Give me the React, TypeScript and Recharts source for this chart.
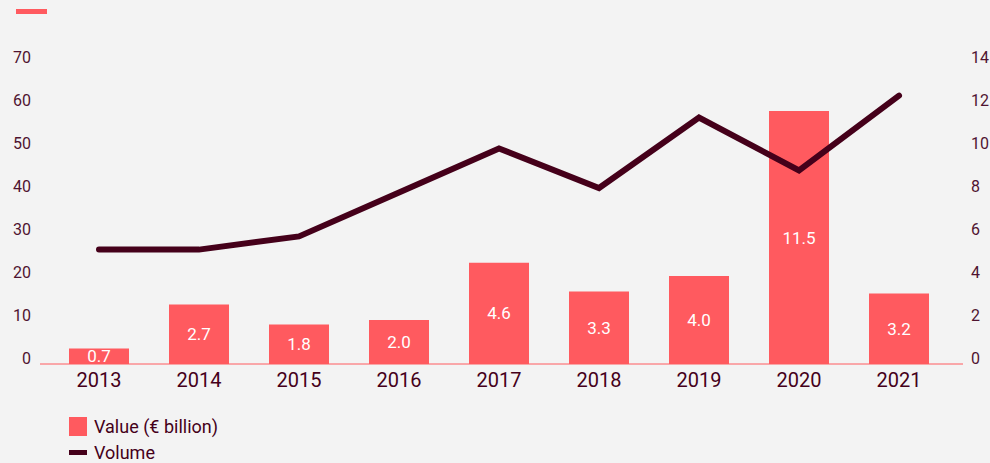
import {
  Bar,
  ComposedChart,
  LabelList,
  Line,
  XAxis,
  YAxis,
} from "recharts";

const years = ["2013", "2014", "2015", "2016", "2017", "2018", "2019", "2020", "2021"];
const valueBillion = [0.7, 2.7, 1.8, 2.0, 4.6, 3.3, 4.0, 11.5, 3.2];
const volume = [26, 26, 29, 39, 49, 40, 56, 44, 61];
const volumeTicks = [0, 10, 20, 30, 40, 50, 60, 70];
const valueTicks = [0, 2, 4, 6, 8, 10, 12, 14];

const data = years.map((year, i) => ({
  year,
  value: valueBillion[i],
  volume: volume[i],
}));

const BG = "#f3f3f3";
const CORAL = "#ff5a5f";
const MAROON = "#45001a";
const TEXT = "#4f1330";
const FONT = '"Roboto", sans-serif';

// tick labels sit a touch above their grid position near the baseline
function SideTick(props: any) {
  const { x, y, payload, textAnchor, index } = props;
  const shift = -6 + index;
  return (
    <text
      x={x}
      y={y + shift}
      dy="0.355em"
      textAnchor={textAnchor}
      fill={TEXT}
      fontSize={16}
      fontFamily={FONT}
    >
      {payload.value}
    </text>
  );
}

export default function App() {
  return (
    <div
      style={{
        position: "fixed",
        left: 0,
        top: 0,
        width: 990,
        height: 463,
        background: BG,
        fontFamily: FONT,
        overflow: "hidden",
      }}
    >
      {/* decorative dash, top left */}
      <div
        style={{
          position: "absolute",
          left: 16,
          top: 9,
          width: 31,
          height: 5,
          background: CORAL,
        }}
      />
      <ComposedChart
        width={990}
        height={463}
        data={data}
        margin={{ top: 56, right: 0, bottom: 0, left: 0 }}
      >
        <XAxis
          dataKey="year"
          height={99}
          tickSize={0}
          tickMargin={9}
          padding={{ left: 9, right: 14 }}
          axisLine={{ stroke: CORAL, strokeWidth: 1 }}
          tick={{ fill: MAROON, fontSize: 20, fontFamily: FONT }}
        />
        <YAxis
          yAxisId="volume"
          orientation="left"
          width={40}
          domain={[0, 70]}
          ticks={volumeTicks}
          axisLine={false}
          tickLine={false}
          tickSize={0}
          tickMargin={9}
          tick={<SideTick />}
        />
        <YAxis
          yAxisId="value"
          orientation="right"
          width={27}
          domain={[0, 14]}
          ticks={valueTicks}
          axisLine={false}
          tickLine={false}
          tickSize={0}
          tickMargin={8}
          tick={<SideTick />}
        />
        <Bar
          yAxisId="value"
          dataKey="value"
          fill={CORAL}
          barSize={60}
          isAnimationActive={false}
        >
          <LabelList
            dataKey="value"
            position="center"
            fill="#ffffff"
            fontSize={17}
            fontFamily={FONT}
            formatter={(v: number) => v.toFixed(1)}
          />
        </Bar>
        <Line
          yAxisId="volume"
          dataKey="volume"
          type="linear"
          stroke={MAROON}
          strokeWidth={6}
          strokeLinecap="round"
          strokeLinejoin="miter"
          dot={false}
          activeDot={false}
          isAnimationActive={false}
        />
      </ComposedChart>

      {/* legend */}
      <div style={{ position: "absolute", left: 69, top: 414, color: MAROON, fontSize: 18 }}>
        <div style={{ display: "flex", alignItems: "center", height: 24 }}>
          <span style={{ width: 18, height: 19, background: CORAL, marginRight: 7 }} />
          <span>Value (€ billion)</span>
        </div>
        <div style={{ display: "flex", alignItems: "center", height: 22, marginTop: 3 }}>
          <span style={{ width: 18, height: 5, background: MAROON, marginRight: 7 }} />
          <span>Volume</span>
        </div>
      </div>
    </div>
  );
}
